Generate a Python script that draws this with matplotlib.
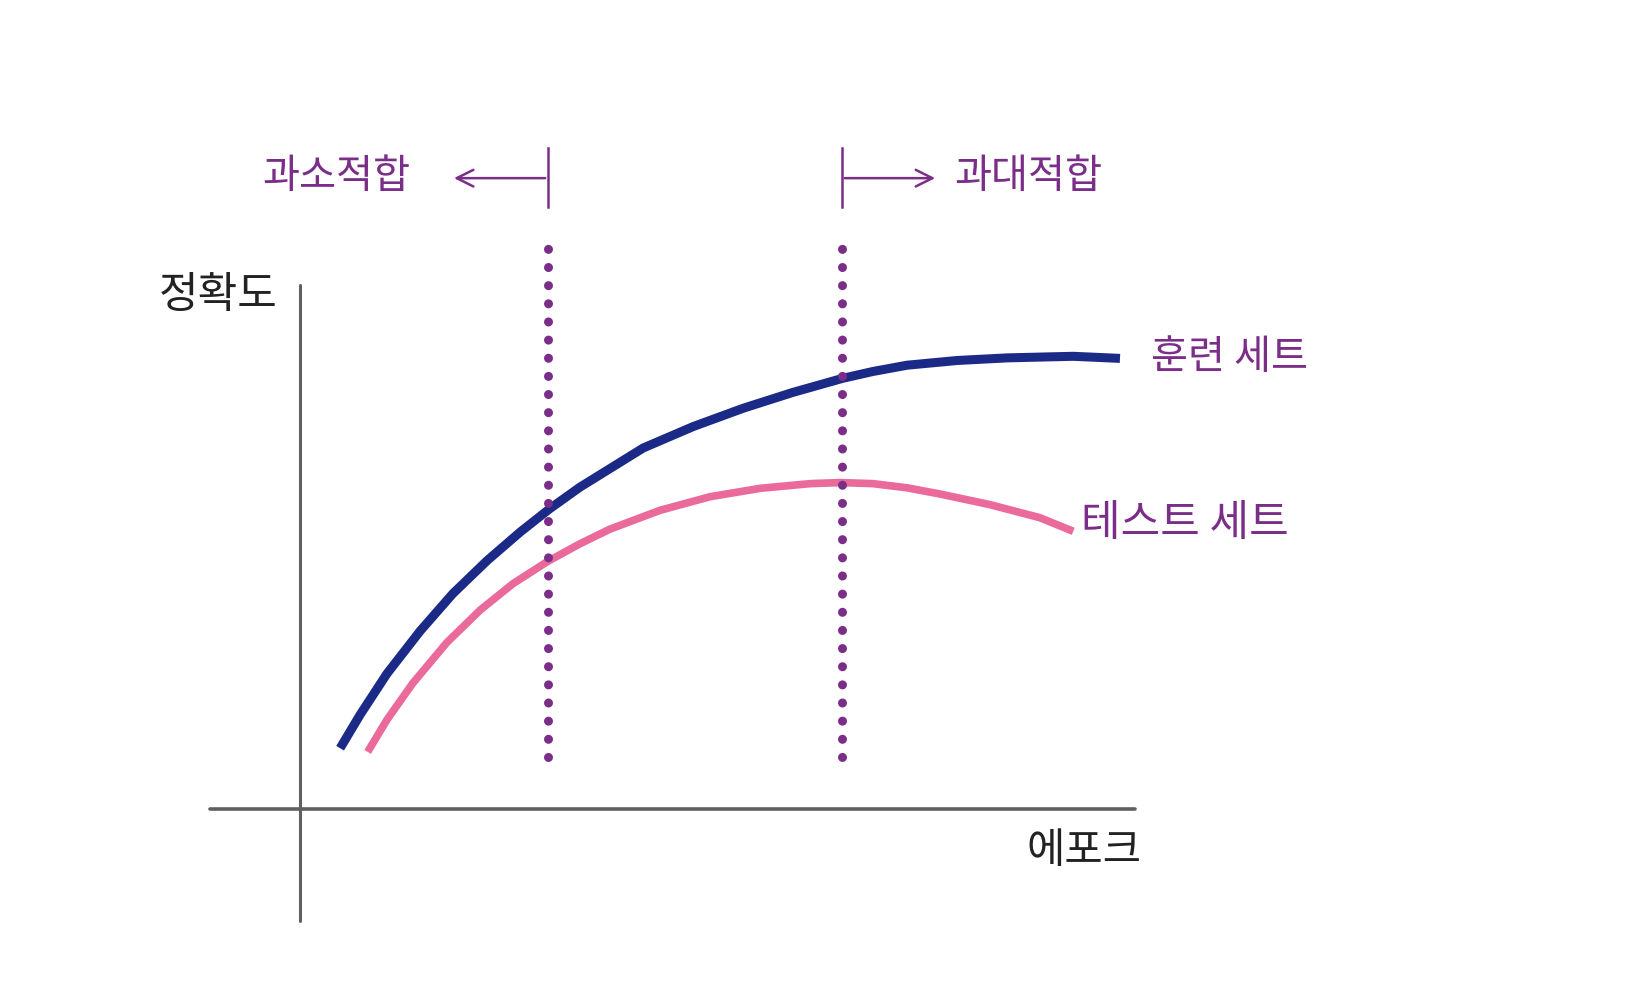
import numpy as np
import matplotlib
matplotlib.use("Agg")
import matplotlib.pyplot as plt

plt.rcParams['font.family'] = ['Noto Sans CJK KR', 'DejaVu Sans']

# Training / test accuracy by epoch
train_epoch = [4.8, 7.2, 10.4, 14.4, 18.3, 22.4, 26.4, 29.9, 33.5, 41.1, 47.1, 53.1,
               59.0, 65.0, 68.6, 72.7, 78.7, 84.7, 92.6, 98.2]
train_acc = [0.116, 0.180, 0.258, 0.340, 0.411, 0.474, 0.529, 0.573, 0.614, 0.689, 0.730, 0.765,
             0.795, 0.822, 0.835, 0.847, 0.856, 0.861, 0.864, 0.860]

test_epoch = [8.1, 10.4, 13.5, 17.6, 21.6, 25.5, 29.6, 33.5, 37.1, 43.1, 49.1, 55.1,
              61.1, 64.7, 68.6, 72.7, 76.7, 82.6, 88.6, 92.6]
test_acc = [0.109, 0.170, 0.240, 0.318, 0.380, 0.430, 0.472, 0.506, 0.534, 0.570, 0.596, 0.612,
            0.621, 0.623, 0.621, 0.613, 0.601, 0.581, 0.556, 0.530]

# Boundaries between underfitting / good fit / overfitting
boundaries = [29.7, 64.9]
region_labels = ['과소적합', '과대적합']
series_labels = ['훈련 세트', '테스트 세트']

navy = '#1b2a86'
pink = '#ea6a9c'
purple = '#7b2e88'
grey = '#606060'

fig = plt.figure(figsize=(16.26, 10), dpi=100)
ax = fig.add_axes([0, 0, 1, 1])
ax.set_xlim(-35.93, 158.8)
ax.set_ylim(-0.3645, 1.544)
ax.axis('off')

# hand-drawn style axes
ax.plot([0, 0], [-0.214, 1.0], color=grey, lw=2.2, solid_capstyle='round')
ax.plot([-10.8, 100], [0, 0], color=grey, lw=2.6, solid_capstyle='round')

# curves
ax.plot(train_epoch, train_acc, color=navy, lw=6.5, solid_capstyle='butt',
        solid_joinstyle='round')
ax.plot(test_epoch, test_acc, color=pink, lw=5.5, solid_capstyle='butt',
        solid_joinstyle='round')

# dotted boundaries
for b in boundaries:
    ax.plot([b, b], [0.099, 1.099], color=purple, lw=6.5,
            linestyle=(0, (0.01, 2.0)), dash_capstyle='round')
    ax.plot([b, b], [1.149, 1.261], color=purple, lw=1.8)

# arrows from the top markers
ax.annotate('', xy=(18.1, 1.204), xytext=(boundaries[0], 1.204),
            arrowprops=dict(arrowstyle='->,head_length=1.2,head_width=0.6',
                            color=purple, lw=1.8))
ax.annotate('', xy=(76.4, 1.204), xytext=(boundaries[1], 1.204),
            arrowprops=dict(arrowstyle='->,head_length=1.2,head_width=0.6',
                            color=purple, lw=1.8))

ax.text(4.4, 1.208, region_labels[0], color=purple, fontsize=29,
        fontweight='medium', ha='center', va='center')
ax.text(87.2, 1.208, region_labels[1], color=purple, fontsize=29,
        fontweight='medium', ha='center', va='center')

ax.text(111.3, 0.861, series_labels[0], color=purple, fontsize=29,
        fontweight='medium', ha='center', va='center')
ax.text(106.0, 0.544, series_labels[1], color=purple, fontsize=31,
        fontweight='medium', ha='center', va='center')

ax.text(-9.8, 0.979, '정확도', color='#222222', fontsize=31,
        ha='center', va='center')
ax.text(93.9, -0.082, '에포크', color='#222222', fontsize=30,
        ha='center', va='center')

fig.savefig('out.png', dpi=100, facecolor='white')
